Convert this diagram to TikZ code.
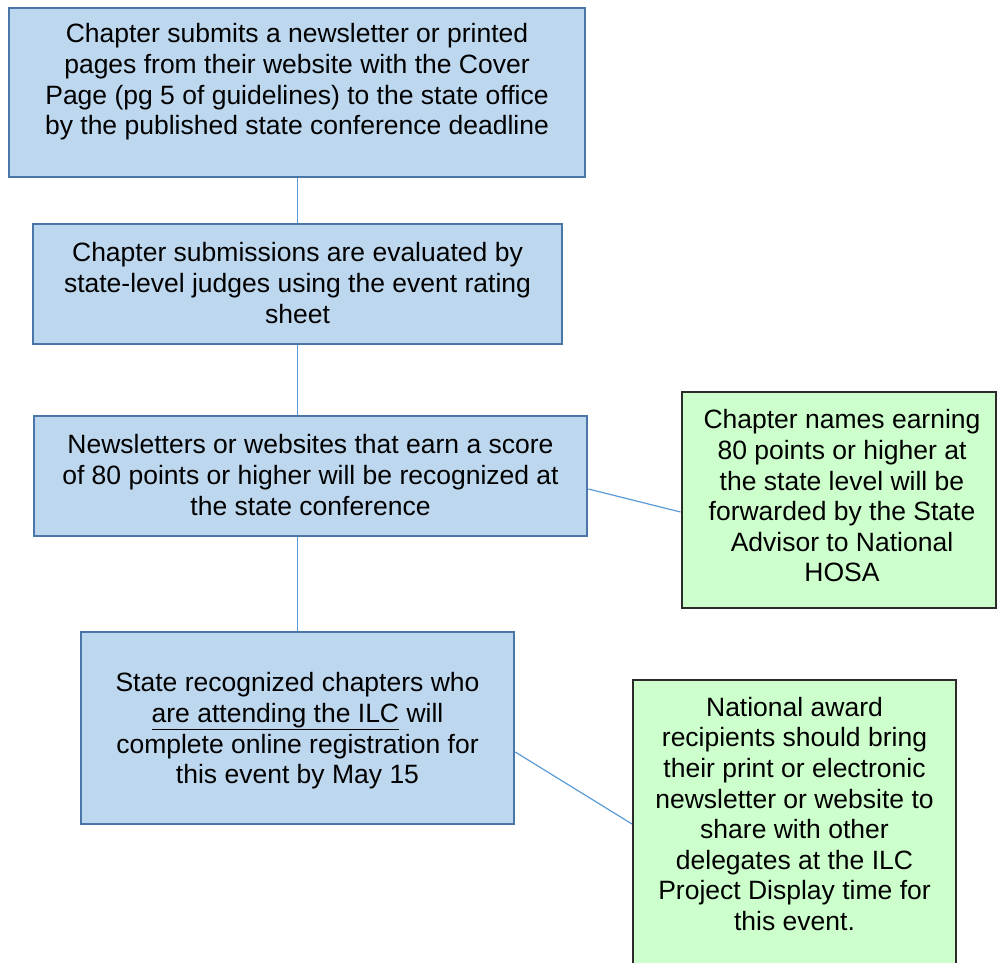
\documentclass[tikz,border=0pt]{standalone}
\usepackage{fontspec}
\setmainfont{Liberation Sans}
\definecolor{bfill}{HTML}{BDD7EE}
\definecolor{bdraw}{HTML}{4A76A8}
\definecolor{gfill}{HTML}{CCFFCC}
\definecolor{gdraw}{HTML}{2B2B2B}
\definecolor{lnk}{HTML}{5B9BD5}
\tikzset{
  bluebox/.style={rectangle, fill=bfill, draw=bdraw, line width=2.5pt, inner sep=0pt},
  greenbox/.style={rectangle, fill=gfill, draw=gdraw, line width=2pt, inner sep=0pt},
  txt/.style={align=center, inner sep=0pt, font=\fontsize{26.5}{30.6}\selectfont},
  link/.style={draw=lnk, line width=1.2pt},
}
\begin{document}
\begin{tikzpicture}[x=1pt,y=-1pt]
\useasboundingbox (0,0) rectangle (997,963);
\clip (0,0) rectangle (997,963);
\node[bluebox, minimum width=576, minimum height=169] (b1) at (297,92.5) {};
\node[bluebox, minimum width=529, minimum height=120] (b2) at (297.5,284) {};
\node[bluebox, minimum width=553, minimum height=120] (b3) at (310.5,476) {};
\node[bluebox, minimum width=433, minimum height=192] (b4) at (297.5,728) {};
\node[greenbox, minimum width=314, minimum height=216] (g1) at (838.5,500) {};
\node[greenbox, minimum width=323, minimum height=320] (g2) at (794.5,840) {};

\node[txt] (t1) at (297,82) {Chapter submits a newsletter or printed\\pages from their website with the Cover\\Page (pg 5 of guidelines) to the state office\\by the published state conference deadline};
\node[txt] (t2) at (297.5,283) {Chapter submissions are evaluated by\\state-level judges using the event rating\\sheet};
\node[txt] (t3) at (310.5,475) {Newsletters or websites that earn a score\\of 80 points or higher will be recognized at\\the state conference};
\node[txt] (t4) at (297.5,731) {State recognized chapters who\\\underline{are attending the ILC} will\\complete online registration for\\this event by May 15};
\node[txt] (t5) at (842,496) {Chapter names earning\\80 points or higher at\\the state level will be\\forwarded by the State\\Advisor to National\\HOSA};
\node[txt] (t6) at (794.5,814) {National award\\recipients should bring\\their print or electronic\\newsletter or website to\\share with other\\delegates at the ILC\\Project Display time for\\this event.};

\coordinate (c1) at (297.5,0);
\draw[link] (b1.south -| c1) -- (b2.north -| c1);
\draw[link] (b2.south -| c1) -- (b3.north -| c1);
\draw[link] (b3.south -| c1) -- (b4.north -| c1);
\draw[link] ([yshift=-13]b3.east) -- ([yshift=-12]g1.west);
\draw[link] ([yshift=-24]b4.east) -- ([yshift=16]g2.west);
\end{tikzpicture}
\end{document}
